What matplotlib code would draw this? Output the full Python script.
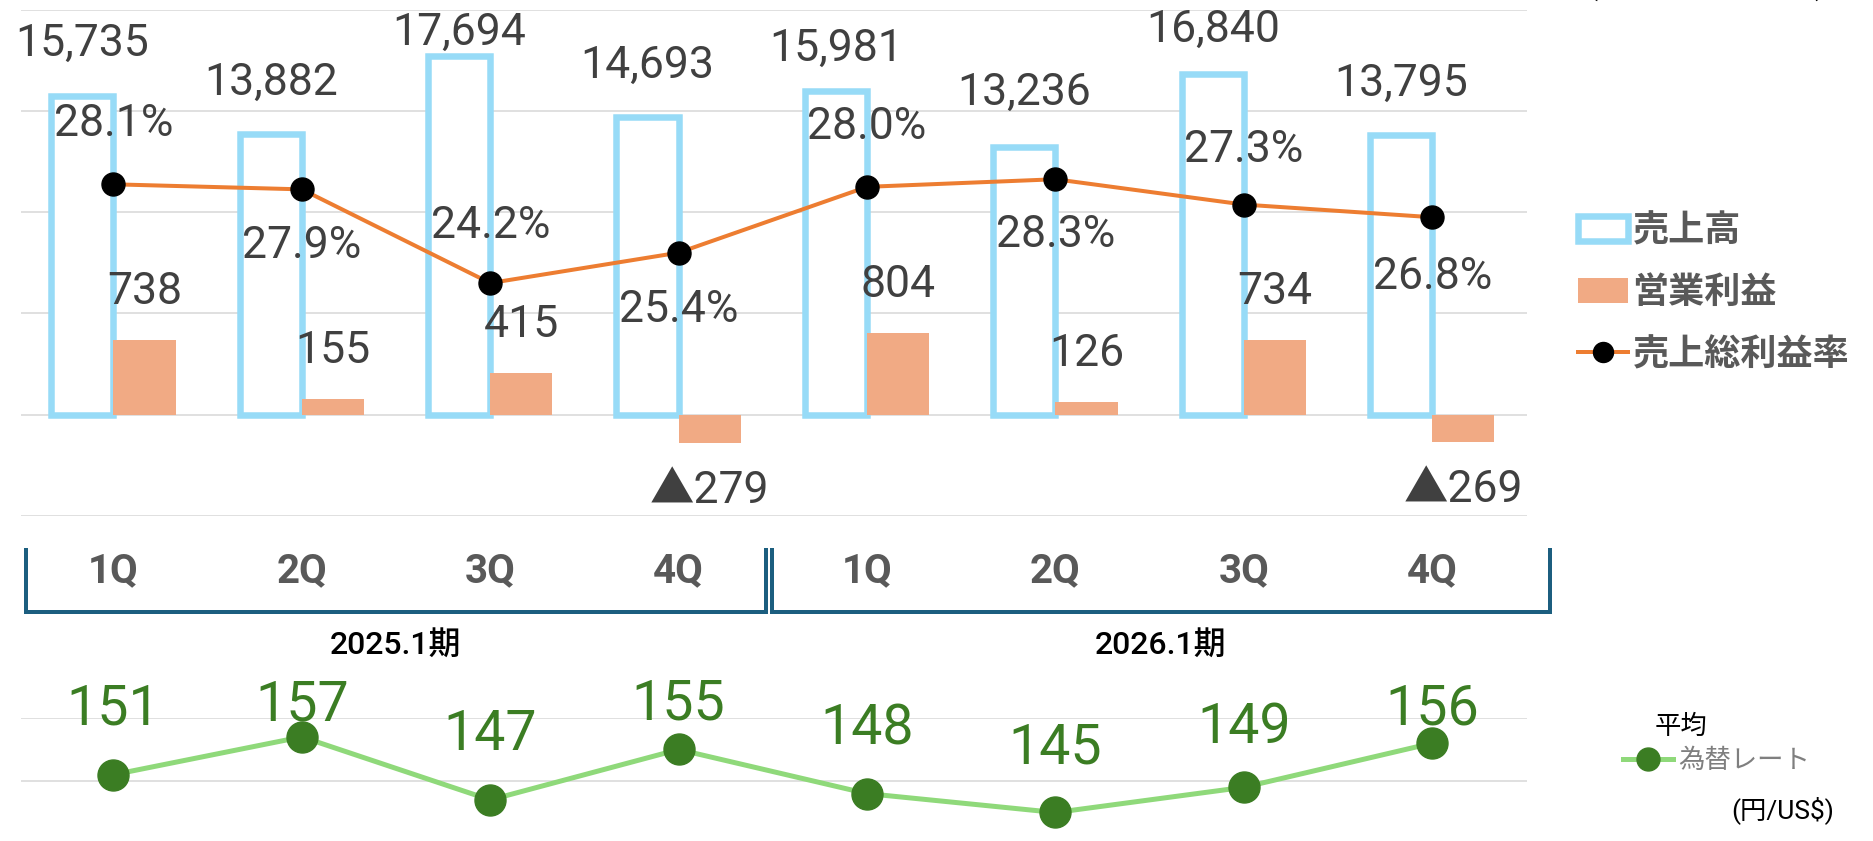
import matplotlib
matplotlib.use("Agg")
import matplotlib.pyplot as plt
from matplotlib.lines import Line2D
from matplotlib.transforms import blended_transform_factory
import numpy as np

# ======= DATA =======
quarters = ["1Q", "2Q", "3Q", "4Q", "1Q", "2Q", "3Q", "4Q"]
fiscal_years = ["2025.1期", "2026.1期"]
sales = [15735, 13882, 17694, 14693, 15981, 13236, 16840, 13795]
op_profit = [738, 155, 415, -279, 804, 126, 734, -269]
gross_margin = [28.1, 27.9, 24.2, 25.4, 28.0, 28.3, 27.3, 26.8]
fx_rate = [151, 157, 147, 155, 148, 145, 149, 156]

# label offsets in pixels (+ = up), hand-placed like the original
sales_label_dy = [52, 51, 23, 51, 42, 54, 44, 51]
margin_label_dy = [60, -57, 57, -57, 60, -56, 55, -60]
fx_label_dy = [66, 32, 65, 45, 65, 64, 60, 34]

# ======= STYLE =======
plt.rcParams["font.family"] = ["Roboto", "Noto Sans CJK JP", "DejaVu Sans"]
BLUE = "#97DBF7"
SALMON = "#F1AA84"
ORANGE = "#ED7D31"
GRID = "#D9D9D9"
TXT = "#404040"
LEG = "#595959"
BRACKET = "#1C5E7F"
FX_LINE = "#8FD97A"
FX_DOT = "#3B7D23"

W, H = 1874, 841
PT = 0.72  # px -> points at dpi 100


def fxp(px):
    return px / W


def fyp(py):
    return 1 - py / H


fig = plt.figure(figsize=(W / 100, H / 100), dpi=100)
x = np.arange(len(quarters))
bw = 0.33
xlim = (-0.488, 7.503)

# ======= TOP CHART =======
ax = fig.add_axes([fxp(21.5), fyp(516), fxp(1527) - fxp(21.5), fyp(9.6) - fyp(516)])
ax.set_xlim(*xlim)
ax.set_ylim(-5000, 20000)
ax.set_yticks(np.arange(-5000, 20001, 5000))
ax.yaxis.grid(True, color=GRID, lw=1.6 * PT)
ax.set_axisbelow(True)
ax.tick_params(length=0, labelleft=False, labelbottom=False)
for s in ax.spines.values():
    s.set_visible(False)

sales_bars = ax.bar(x - bw / 2, sales, bw, facecolor="white",
                    edgecolor=BLUE, linewidth=6.5 * PT, zorder=2)
for i, v in enumerate(sales):
    ax.annotate(f"{v:,}", (x[i] - bw / 2, v), xytext=(0, sales_label_dy[i] * PT),
                textcoords="offset points", ha="center", va="center",
                fontsize=32, color=TXT)

ax2 = ax.twinx()
ax2.set_ylim(-1000, 4000)
ax2.axis("off")
profit_bars = ax2.bar(x + bw / 2, op_profit, bw, color=SALMON, zorder=3)
for i, v in enumerate(op_profit):
    label = f"{v:,}" if v >= 0 else f"▲{abs(v):,}"
    dy = 48 if v >= 0 else -48
    ax2.annotate(label, (x[i] + bw / 2, v), xytext=(0, dy * PT),
                 textcoords="offset points", ha="center", va="center",
                 fontsize=32, color=TXT)

ax3 = ax.twinx()
ax3.set_ylim(15, 35)
ax3.axis("off")
margin_line, = ax3.plot(x, gross_margin, color=ORANGE, lw=4 * PT, marker="o",
                        markersize=23 * PT, markerfacecolor="black",
                        markeredgecolor="black", zorder=4)
for i, v in enumerate(gross_margin):
    ax3.annotate(f"{v:.1f}%", (x[i], v), xytext=(0, margin_label_dy[i] * PT),
                 textcoords="offset points", ha="center", va="center",
                 fontsize=32, color=TXT)

fig.legend([sales_bars, profit_bars, margin_line], ["売上高", "営業利益", "売上総利益率"],
           loc="center left", bbox_to_anchor=(fxp(1578), fyp(293)), frameon=False,
           prop={"size": 26, "weight": "bold"}, labelcolor=LEG,
           handlelength=1.39, handleheight=0.7, handletextpad=0.12,
           labelspacing=0.72, borderpad=0, borderaxespad=0, markerscale=0.87)

# unit note, mostly above the top edge as in the original
fig.text(fxp(1707), fyp(-19), "(単位：百万円)", ha="center", va="center",
         fontsize=26, fontweight="bold", color="black")

# ======= CATEGORY BRACKETS =======
btr = blended_transform_factory(ax.transData, fig.transFigure)
brackets = [(-0.465, 3.463), (3.495, 7.625)]
y_top, y_bot = fyp(548), fyp(612)
for (x0, x1), year in zip(brackets, fiscal_years):
    fig.add_artist(Line2D([x0, x0, x1, x1], [y_top, y_bot, y_bot, y_top],
                          transform=btr, color=BRACKET, lw=4 * PT,
                          solid_joinstyle="miter", solid_capstyle="butt"))
    fig.text((x0 + x1) / 2, fyp(645), year, transform=btr, ha="center", va="center",
             fontsize=23, fontweight="medium", color="black")
for i, q in enumerate(quarters):
    fig.text(x[i], fyp(571), q, transform=btr, ha="center", va="center",
             fontsize=29, fontweight="bold", color=LEG)

# ======= FX RATE CHART =======
axf = fig.add_axes([fxp(21.5), fyp(844), fxp(1527) - fxp(21.5), fyp(718) - fyp(844)])
axf.set_xlim(*xlim)
axf.set_ylim(140, 160)
axf.set_yticks([140, 150, 160])
axf.yaxis.grid(True, color=GRID, lw=1.6 * PT)
axf.set_axisbelow(True)
axf.tick_params(length=0, labelleft=False, labelbottom=False)
for s in axf.spines.values():
    s.set_visible(False)
axf.patch.set_alpha(0)

fx_line, = axf.plot(x, fx_rate, color=FX_LINE, lw=5 * PT, marker="o",
                    markersize=31 * PT, markerfacecolor=FX_DOT,
                    markeredgecolor=FX_DOT, clip_on=False, zorder=3)
for i, v in enumerate(fx_rate):
    axf.annotate(str(v), (x[i], v), xytext=(0, fx_label_dy[i] * PT),
                 textcoords="offset points", ha="center", va="center",
                 fontsize=40, color=FX_DOT, annotation_clip=False)

fig.legend([fx_line], ["為替レート"], loc="center left",
           bbox_to_anchor=(fxp(1623), fyp(761)), frameon=False,
           prop={"size": 19}, labelcolor="#7F7F7F", handlelength=1.9,
           handletextpad=0.2, borderpad=0, borderaxespad=0, markerscale=0.74)
fig.text(fxp(1681), fyp(727), "平均", ha="center", va="center", fontsize=19, color="black")
fig.text(fxp(1783), fyp(810), "(円/US$)", ha="center", va="center", fontsize=19, color="black")

fig.savefig("out.png", dpi=100)
